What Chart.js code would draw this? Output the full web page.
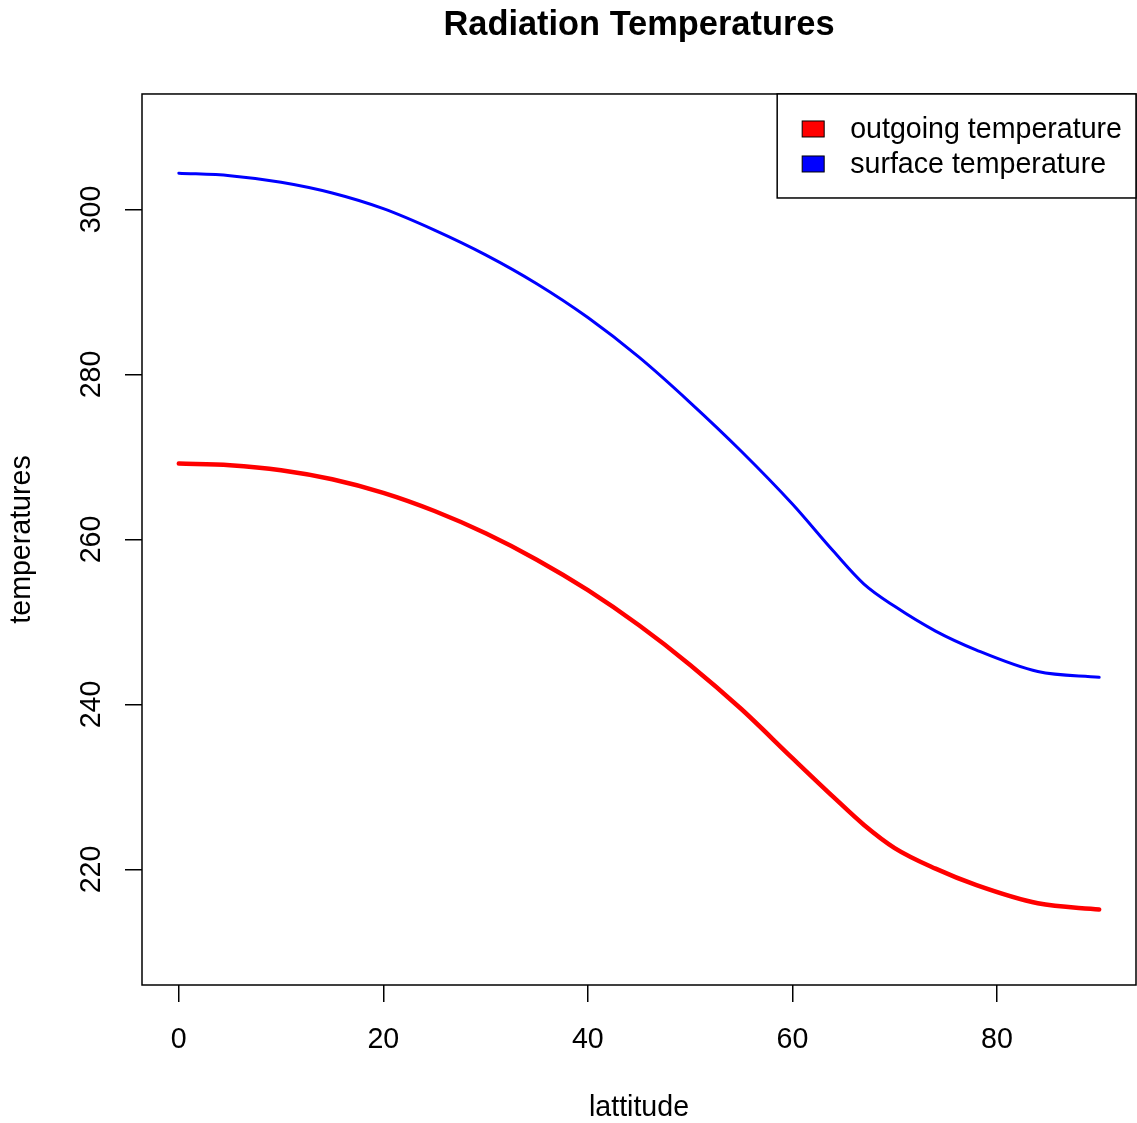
<!DOCTYPE html>
<html>
<head>
<meta charset="utf-8">
<title>Radiation Temperatures</title>
<script src="https://cdn.jsdelivr.net/npm/chart.js@4.4.1/dist/chart.umd.min.js"></script>
<style>
  html, body { margin: 0; padding: 0; background: #fff; }
  canvas { display: block; }
</style>
</head>
<body>
<canvas id="tempCanvas" width="1137" height="1123"></canvas>
<script>
// values
const latitudes = [0, 5, 10, 15, 20, 25, 30, 35, 40, 45, 50, 55, 60, 64, 67, 70, 74, 78, 84, 90];
const outgoingTemps = [269.2, 269.0, 268.4, 267.3, 265.65, 263.45, 260.75, 257.55, 253.85, 249.6,
    244.8, 239.45, 233.5, 228.8, 225.4, 222.6, 220.1, 218.1, 215.9, 215.15];
const surfaceTemps = [304.4, 304.1, 303.3, 302.0, 300.1, 297.5, 294.5, 291.0, 286.9, 282.1,
    276.6, 270.7, 264.3, 258.6, 254.6, 251.9, 248.9, 246.6, 244.0, 243.3];
const latTicks = [0, 20, 40, 60, 80];
const tempTicks = [220, 240, 260, 280, 300];
const seriesNames = ['outgoing temperature', 'surface temperature'];

const canvas = document.getElementById('tempCanvas');
const fontFamily = '"Liberation Sans", Arial, Helvetica, sans-serif';
const baseSize = 28.6;

const toPoints = (values) => latitudes.map((lat, i) => ({x: lat, y: values[i]}));

// R style box around the plot region
const boxPlugin = {
    id: 'box',
    afterDraw: (chart) => {
        const {ctx, chartArea} = chart;
        ctx.save();
        ctx.strokeStyle = '#000';
        ctx.lineWidth = 1.5;
        ctx.strokeRect(chartArea.left, chartArea.top, chartArea.right - chartArea.left, chartArea.bottom - chartArea.top);
        ctx.restore();
    }
};

// legend with filled squares, top right inside the box
const boxLegend = {
    id: 'boxLegend',
    afterDraw: (chart) => {
        const {ctx, chartArea} = chart;
        const sets = chart.data.datasets;
        ctx.save();
        ctx.font = baseSize + 'px ' + fontFamily;
        const textWidth = Math.max(...sets.map((ds) => ctx.measureText(ds.label).width));
        const right = chartArea.right;
        const top = chartArea.top;
        const left = right - (73 + textWidth + 14);
        const height = 104;
        ctx.fillStyle = '#fff';
        ctx.fillRect(left, top, right - left, height);
        ctx.strokeStyle = '#000';
        ctx.lineWidth = 1.5;
        ctx.strokeRect(left, top, right - left, height);
        sets.forEach((ds, i) => {
            const cy = top + 35 + i * 35;
            ctx.fillStyle = ds.borderColor;
            ctx.fillRect(left + 25, cy - 8, 22, 16);
            ctx.lineWidth = 1;
            ctx.strokeRect(left + 25, cy - 8, 22, 16);
            ctx.fillStyle = '#000';
            ctx.textAlign = 'left';
            ctx.textBaseline = 'middle';
            ctx.fillText(ds.label, left + 73, cy + 1);
        });
        ctx.restore();
    }
};

const chartDraw = () => {
    const data = {
        datasets: [
            {
                label: seriesNames[0],
                data: toPoints(outgoingTemps),
                borderColor: '#ff0000',
                backgroundColor: '#ff0000',
                borderWidth: 4.5,
                borderCapStyle: 'round',
                cubicInterpolationMode: 'monotone',
                pointRadius: 0
            },
            {
                label: seriesNames[1],
                data: toPoints(surfaceTemps),
                borderColor: '#0000ff',
                backgroundColor: '#0000ff',
                borderWidth: 3,
                borderCapStyle: 'round',
                cubicInterpolationMode: 'monotone',
                pointRadius: 0
            }
        ]
    };

    const tickGrid = {
        drawOnChartArea: false,
        drawTicks: true,
        tickLength: 17,
        color: '#000',
        lineWidth: 1.5
    };

    const config = {
        type: 'line',
        data,
        options: {
            responsive: false,
            animation: false,
            devicePixelRatio: 1,
            layout: {padding: {right: 1}},
            plugins: {
                legend: {display: false},
                tooltip: {enabled: false},
                title: {
                    display: true,
                    text: 'Radiation Temperatures',
                    fullSize: false,
                    color: '#000',
                    font: {family: fontFamily, size: 34.4, weight: 'bold'},
                    padding: {top: 5, bottom: 47.7}
                }
            },
            scales: {
                x: {
                    type: 'linear',
                    min: -3.6,
                    max: 93.6,
                    afterFit: (scale) => { scale.height = 138; },
                    afterBuildTicks: (scale) => { scale.ticks = latTicks.map((v) => ({value: v})); },
                    grid: tickGrid,
                    border: {display: false},
                    ticks: {
                        color: '#000',
                        padding: 20.5,
                        maxRotation: 0,
                        font: {family: fontFamily, size: baseSize}
                    },
                    title: {
                        display: true,
                        text: 'lattitude',
                        color: '#000',
                        font: {family: fontFamily, size: baseSize},
                        padding: {top: 0, bottom: -2}
                    }
                },
                y: {
                    min: 206,
                    max: 314,
                    afterFit: (scale) => { scale.width = 142; },
                    afterBuildTicks: (scale) => { scale.ticks = tempTicks.map((v) => ({value: v})); },
                    grid: tickGrid,
                    border: {display: false},
                    ticks: {
                        color: '#000',
                        padding: 9,
                        minRotation: 90,
                        maxRotation: 90,
                        crossAlign: 'center',
                        font: {family: fontFamily, size: baseSize}
                    },
                    title: {
                        display: true,
                        text: 'temperatures',
                        color: '#000',
                        font: {family: fontFamily, size: baseSize},
                        padding: {top: 5, bottom: 0}
                    }
                }
            }
        },
        plugins: [boxPlugin, boxLegend]
    };

    new Chart(canvas, config);
};

chartDraw();
</script>
</body>
</html>
